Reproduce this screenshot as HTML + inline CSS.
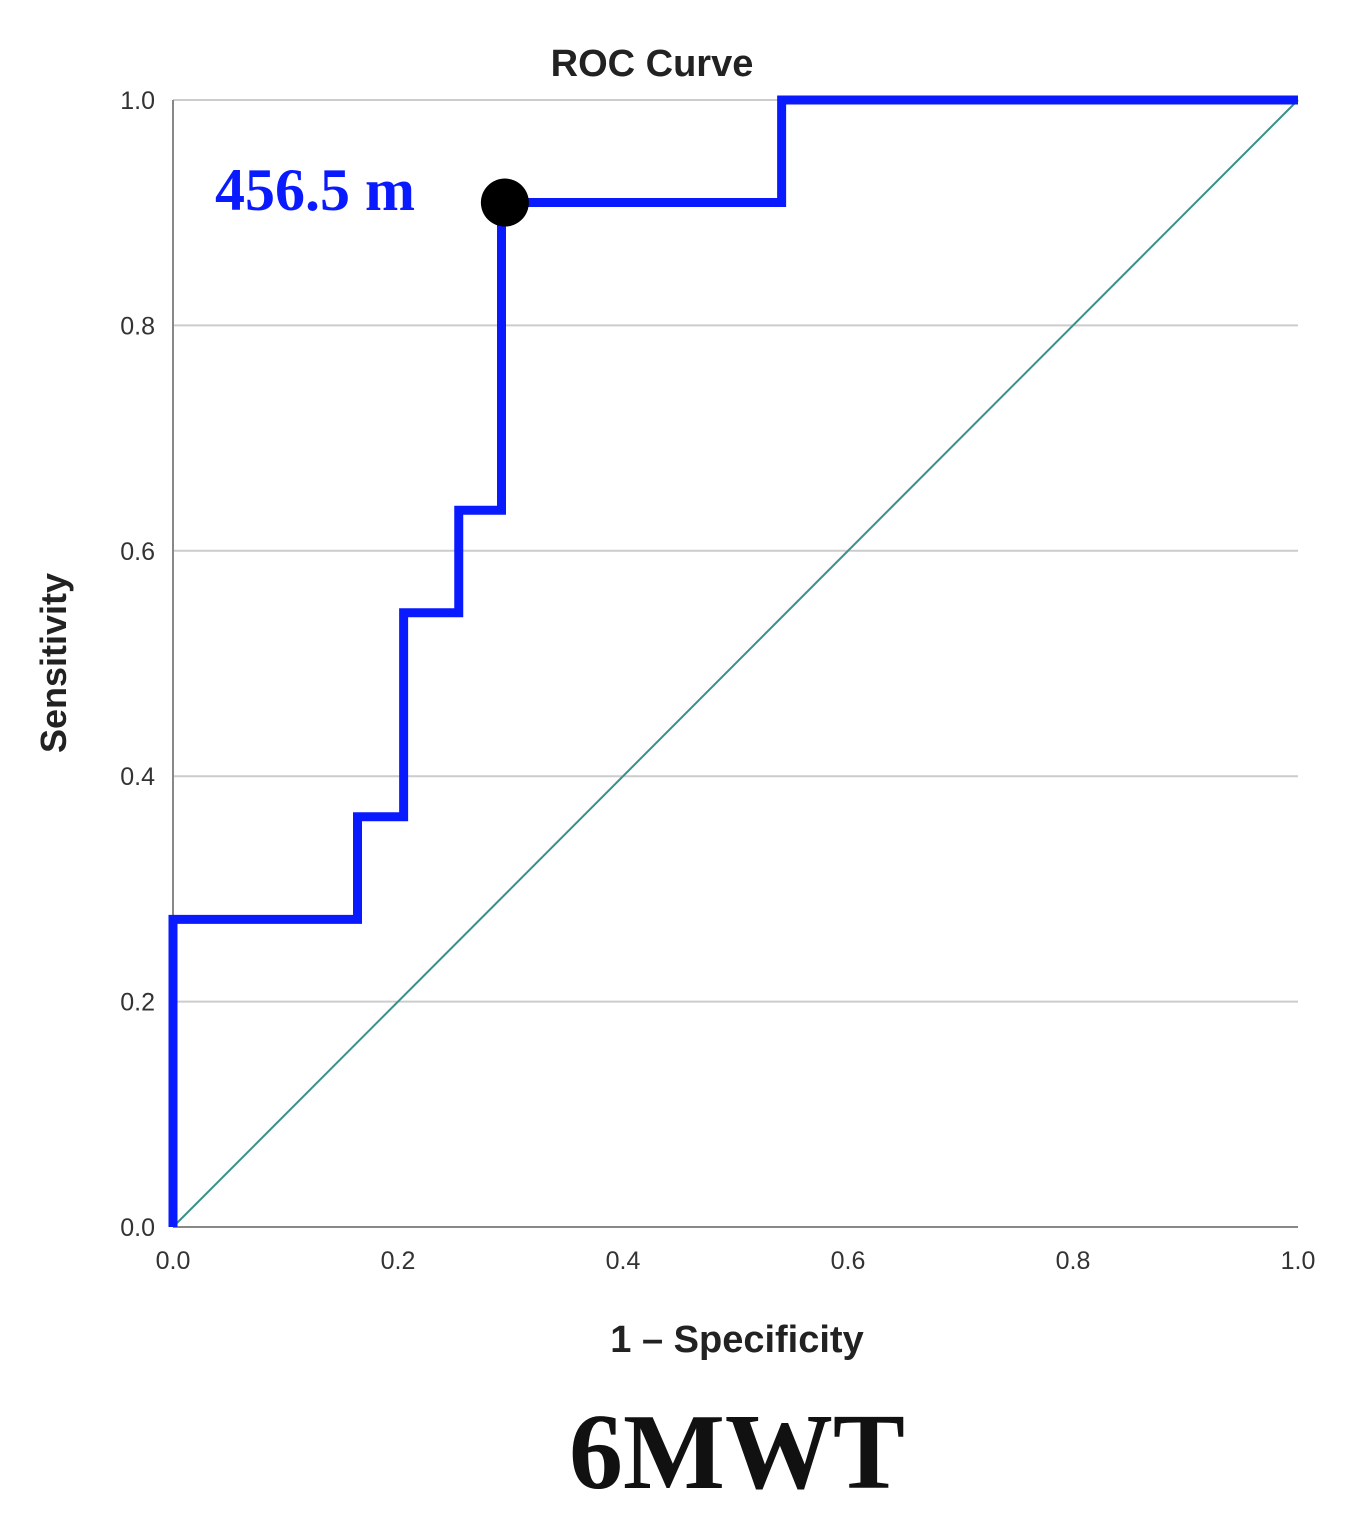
<!DOCTYPE html>
<html><head><meta charset="utf-8"><style>
body{margin:0;background:#fff;}
svg{display:block;font-family:"Liberation Sans",sans-serif;}
</style></head><body>
<svg id="chart" width="1346" height="1517" viewBox="0 0 1346 1517" xmlns="http://www.w3.org/2000/svg">
<text x="652" y="76" text-anchor="middle" font-size="38" font-weight="bold" fill="#222">ROC Curve</text>
<g id="grid"></g>
<g id="ticks"></g>
<line id="diag" stroke="#3a8f8a" stroke-width="2"/>
<path id="roc" fill="none" stroke="#0a1aff" stroke-width="9" stroke-linejoin="miter"/>
<circle id="marker" r="24" fill="#000"/>
<text x="215" y="210" font-family="Liberation Serif,serif" font-size="60" font-weight="bold" fill="#0a1aff">456.5 m</text>
<text transform="translate(66,663) rotate(-90)" text-anchor="middle" font-size="36" font-weight="bold" fill="#222">Sensitivity</text>
<text x="737" y="1352" text-anchor="middle" font-size="38" font-weight="bold" fill="#222">1 – Specificity</text>
<text x="737" y="1488" text-anchor="middle" font-family="Liberation Serif,serif" font-size="108" font-weight="bold" fill="#111">6MWT</text>
</svg>
<script>
const xTicks=[0,0.2,0.4,0.6,0.8,1.0];
const yTicks=[0,0.2,0.4,0.6,0.8,1.0];
const rocFpr=[0,0,0.164,0.164,0.205,0.205,0.254,0.254,0.292,0.292,0.541,0.541,1.0];
const rocTpr=[0,0.273,0.273,0.364,0.364,0.545,0.545,0.636,0.636,0.909,0.909,1.0,1.0];
const cutoffPoint=[0.295,0.909];
const X0=173,X1=1298,Y0=1227,Y1=100;
const sx=v=>X0+(X1-X0)*v, sy=v=>Y0-(Y0-Y1)*v;
const NS="http://www.w3.org/2000/svg";
const grid=document.getElementById('grid'), ticks=document.getElementById('ticks');
yTicks.forEach(t=>{
 const l=document.createElementNS(NS,'line');
 
 
 l.setAttribute('x1',X0);l.setAttribute('x2',X1);l.setAttribute('y1',sy(t));l.setAttribute('y2',sy(t));
 l.setAttribute('stroke',t===0?'#888':'#ccc');l.setAttribute('stroke-width',2);
 grid.appendChild(l);
 const tx=document.createElementNS(NS,'text');
 
 
 tx.setAttribute('x',X0-18);tx.setAttribute('y',sy(t)+9);tx.setAttribute('text-anchor','end');
 tx.setAttribute('font-size','25');tx.setAttribute('fill','#333');tx.textContent=t.toFixed(1);
 ticks.appendChild(tx);
});
xTicks.forEach(t=>{
 const tx=document.createElementNS(NS,'text');
 
 
 tx.setAttribute('x',sx(t));tx.setAttribute('y',Y0+42);tx.setAttribute('text-anchor','middle');
 tx.setAttribute('font-size','25');tx.setAttribute('fill','#333');tx.textContent=t.toFixed(1);
 ticks.appendChild(tx);
});
const ax=document.createElementNS(NS,'line');


ax.setAttribute('x1',X0);ax.setAttribute('x2',X0);ax.setAttribute('y1',Y1);ax.setAttribute('y2',Y0);
ax.setAttribute('stroke','#888');ax.setAttribute('stroke-width',2);grid.appendChild(ax);
const d=document.getElementById('diag');
d.setAttribute('x1',sx(0));d.setAttribute('y1',sy(0));d.setAttribute('x2',sx(1));d.setAttribute('y2',sy(1));
document.getElementById('roc').setAttribute('d',rocFpr.map((v,i)=>(i?'L':'M')+sx(v)+','+sy(rocTpr[i])).join(' '));
const m=document.getElementById('marker');
m.setAttribute('cx',sx(cutoffPoint[0]));m.setAttribute('cy',sy(cutoffPoint[1]));
</script>
</body></html>
